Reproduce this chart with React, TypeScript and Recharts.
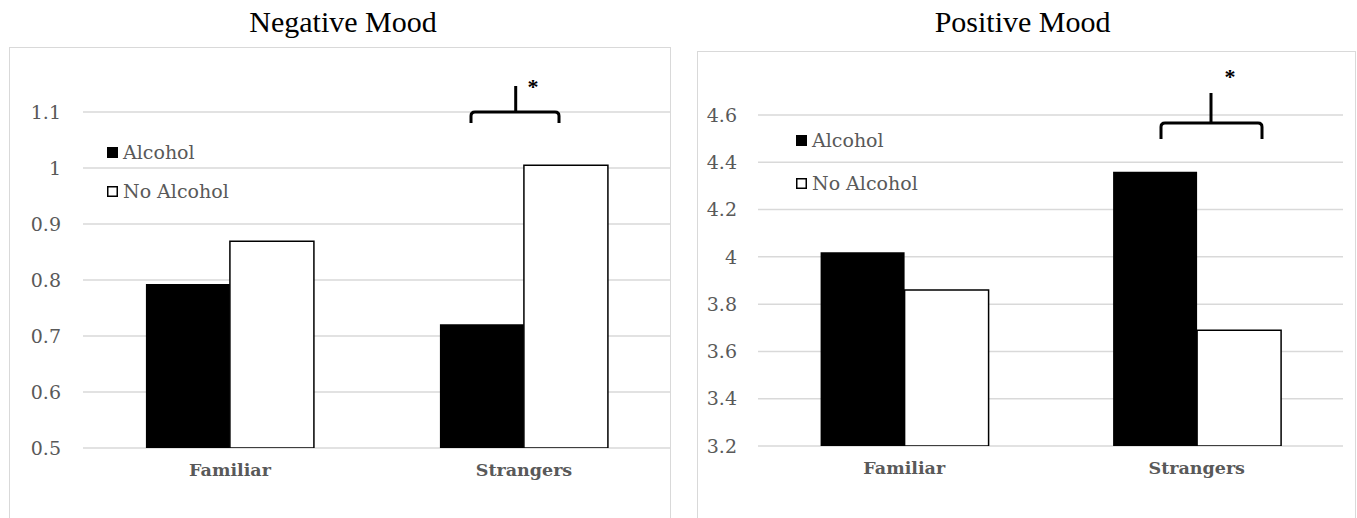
import React from 'react';
import { BarChart, Bar, XAxis, YAxis, CartesianGrid } from 'recharts';

const categories = ['Familiar', 'Strangers'];
const seriesNames = ['Alcohol', 'No Alcohol'];
const negAlcohol = [0.793, 0.721];
const negNoAlcohol = [0.869, 1.005];
const posAlcohol = [4.02, 4.36];
const posNoAlcohol = [3.86, 3.69];
const negTicks = [0.5, 0.6, 0.7, 0.8, 0.9, 1, 1.1];
const posTicks = [3.2, 3.4, 3.6, 3.8, 4, 4.2, 4.4, 4.6];

const negData = categories.map((c, i) => ({ name: c, alcohol: negAlcohol[i], noAlcohol: negNoAlcohol[i] }));
const posData = categories.map((c, i) => ({ name: c, alcohol: posAlcohol[i], noAlcohol: posNoAlcohol[i] }));

const GRAY = '#595959';
const SERIF = '"DejaVu Serif", Georgia, serif';
const TITLE_FONT = '"Liberation Serif", "Times New Roman", serif';

type PanelProps = {
  data: any[];
  ticks: number[];
  left: number;
  width: number;
  margin: { top: number; right: number; bottom: number; left: number };
  yWidth: number;
  tickMargin: number;
};

function Panel({ data, ticks, left, width, margin, yWidth, tickMargin }: PanelProps) {
  return (
    <div style={{ position: 'absolute', left, top: 0 }}>
      <BarChart
        width={width}
        height={518}
        data={data}
        margin={margin}
        barCategoryGap="21.4%"
        barGap={0}
      >
        <CartesianGrid horizontal vertical={false} stroke="#d9d9d9" strokeWidth={1.5} />
        <XAxis
          dataKey="name"
          height={30}
          axisLine={false}
          tickLine={false}
          tickSize={0}
          tickMargin={16}
          tick={{ fill: GRAY, fontSize: 17.5, fontWeight: 'bold', fontFamily: SERIF }}
        />
        <YAxis
          type="number"
          domain={[ticks[0], ticks[ticks.length - 1]]}
          ticks={ticks}
          interval={0}
          width={yWidth}
          axisLine={false}
          tickLine={false}
          tickSize={0}
          tickMargin={tickMargin}
          allowDataOverflow
          tickFormatter={(v: number) => String(v)}
          tick={{ fill: GRAY, fontSize: 19, fontFamily: SERIF }}
        />
        <Bar dataKey="alcohol" name={seriesNames[0]} fill="#000" isAnimationActive={false} />
        <Bar
          dataKey="noAlcohol"
          name={seriesNames[1]}
          fill="#fff"
          stroke="#000"
          strokeWidth={1.5}
          isAnimationActive={false}
        />
      </BarChart>
    </div>
  );
}

function Bracket({ x1, x2, y, yEnd, stemX, stemTop, starX, starY }: any) {
  const r = 4;
  const d = `M ${x1} ${yEnd} L ${x1} ${y + r} Q ${x1} ${y} ${x1 + r} ${y} L ${x2 - r} ${y} Q ${x2} ${y} ${x2} ${y + r} L ${x2} ${yEnd}`;
  return (
    <g>
      <path d={d} fill="none" stroke="#000" strokeWidth={3} />
      <line x1={stemX} y1={y} x2={stemX} y2={stemTop} stroke="#000" strokeWidth={3} />
      <text x={starX} y={starY} textAnchor="middle" fontSize={22} fontWeight="bold" fontFamily={TITLE_FONT} fill="#000">*</text>
    </g>
  );
}

function LegendBlock({ x, y1, y2, size }: any) {
  return (
    <g fontFamily={SERIF} fontSize={19} fill={GRAY}>
      <rect x={x} y={y1} width={size} height={size} fill="#000" />
      <text x={x + size + 5} y={y1 + size + 1}>{seriesNames[0]}</text>
      <rect x={x + 0.75} y={y2 + 0.75} width={size - 1.5} height={size - 1.5} fill="#fff" stroke="#000" strokeWidth={1.5} />
      <text x={x + size + 5} y={y2 + size + 1}>{seriesNames[1]}</text>
    </g>
  );
}

export default function App() {
  return (
    <div style={{ position: 'absolute', left: 0, top: 0, width: 1357, height: 518, background: '#fff', overflow: 'hidden' }}>
      <div style={{ position: 'absolute', left: 9, top: 47, width: 662, height: 480, border: '1.5px solid #d9d9d9', boxSizing: 'border-box' }} />
      <div style={{ position: 'absolute', left: 697, top: 51, width: 659, height: 480, border: '1.5px solid #d9d9d9', boxSizing: 'border-box' }} />
      <Panel
        data={negData}
        ticks={negTicks}
        left={0}
        width={680}
        margin={{ top: 112, right: 9, bottom: 40, left: 0 }}
        yWidth={83}
        tickMargin={22}
      />
      <Panel
        data={posData}
        ticks={posTicks}
        left={680}
        width={677}
        margin={{ top: 115, right: 14, bottom: 42, left: 0 }}
        yWidth={78}
        tickMargin={21}
      />
      <svg width={1357} height={518} style={{ position: 'absolute', left: 0, top: 0, pointerEvents: 'none' }}>
        <text x={343} y={32} textAnchor="middle" fontFamily={TITLE_FONT} fontSize={30} fill="#000">Negative Mood</text>
        <text x={1022.6} y={32} textAnchor="middle" fontFamily={TITLE_FONT} fontSize={30} fill="#000">Positive Mood</text>
        <LegendBlock x={107} y1={147} y2={186} size={11} />
        <LegendBlock x={796} y1={135} y2={178} size={11} />
        <Bracket x1={471} x2={559} y={112} yEnd={123} stemX={515.7} stemTop={86} starX={533} starY={94} />
        <Bracket x1={1161} x2={1262} y={123} yEnd={139} stemX={1211} stemTop={93} starX={1230} starY={84} />
      </svg>
    </div>
  );
}
